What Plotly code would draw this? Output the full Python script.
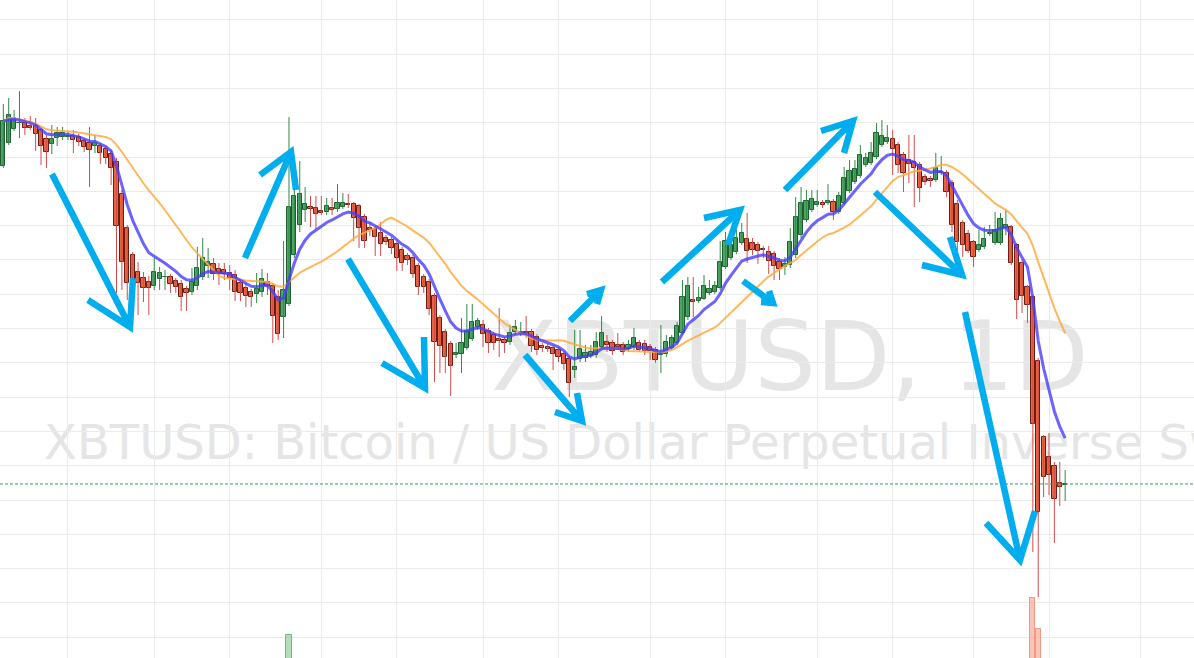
import pandas as pd
import plotly.graph_objects as go

# XBTUSD daily, 2019-09-03 .. 2020-03-18
START = "2019-09-03"

OPEN = [
    9370, 9705, 9910, 9990, 9997, 9953, 9953, 9895, 9764, 9691,
    9778, 9793, 9793, 9808, 9793, 9735, 9705, 9662, 9662, 9618,
    9545, 9429, 8962, 8466, 8073, 7825, 7738, 7679, 7621, 7723,
    7745, 7752, 7694, 7650, 7577, 7534, 7621, 7752, 7912, 7942,
    7869, 7854, 7810, 7781, 7665, 7592, 7534, 7504, 7534, 7679,
    7621, 7461, 7169, 7359, 8073, 8510, 8729, 8773, 8758, 8714,
    8700, 8758, 8743, 8773, 8816, 8816, 8787, 8627, 8466, 8452,
    8394, 8321, 8292, 8233, 8146, 8058, 8029, 7912, 7752, 7679,
    7475, 7154, 6950, 6776, 6615, 6630, 6717, 6848, 7023, 7052,
    6965, 6907, 6848, 6834, 6805, 6950, 6936, 6950, 6950, 6878,
    6746, 6732, 6717, 6688, 6630, 6557, 6397, 6557, 6571, 6601,
    6615, 6732, 6805, 6790, 6761, 6761, 6703, 6732, 6790, 6776,
    6732, 6688, 6615, 6630, 6717, 6790, 6936, 7169, 7417, 7402,
    7431, 7519, 7534, 7592, 7898, 8029, 8117, 8248, 8306, 8248,
    8219, 8160, 8117, 8087, 7971, 7898, 7927, 8073, 8364, 8583,
    8729, 8802, 8831, 8831, 8845, 8700, 8831, 9006, 9137, 9224,
    9385, 9414, 9501, 9676, 9720, 9764, 9676, 9531, 9458, 9429,
    9385, 9210, 9181, 9166, 9268, 9268, 9122, 8816, 8539, 8379,
    8262, 8146, 8190, 8379, 8248, 8248, 8466, 8481, 8219, 7956,
    7606, 7461, 6528, 5420, 5128, 4997, 4749, 4720,
]
HIGH = [
    10274, 10361, 10186, 10463, 10070, 10099, 10070, 9924, 9822, 9968,
    9939, 9939, 9880, 9895, 9837, 9764, 9939, 9822, 9705, 9662,
    9603, 9487, 9020, 8510, 8117, 7971, 7825, 7767, 8029, 7898,
    7854, 7796, 7738, 7708, 7621, 7883, 8190, 8321, 8175, 8029,
    7956, 7956, 7927, 7854, 7723, 7665, 7577, 7810, 7869, 7810,
    7665, 7563, 8277, 10084, 9020, 9443, 9064, 8933, 8933, 8933,
    8904, 8904, 9108, 8977, 8962, 8845, 8816, 8670, 8554, 8496,
    8554, 8364, 8335, 8277, 8190, 8102, 8073, 7956, 7796, 7723,
    7519, 7198, 6994, 6819, 6790, 7154, 7359, 7359, 7154, 7125,
    7009, 6950, 7300, 6878, 7052, 7125, 7096, 7184, 6994, 6921,
    6790, 6776, 6761, 6732, 6673, 6601, 6980, 6980, 6761, 6761,
    6950, 7184, 6907, 6834, 6936, 6805, 6834, 7009, 6834, 6834,
    6776, 6732, 7052, 6907, 6907, 7096, 7708, 7752, 7752, 7606,
    7781, 7708, 7694, 8277, 8408, 8394, 8437, 8539, 8685, 8321,
    8262, 8204, 8204, 8131, 8029, 8044, 8466, 8918, 9064, 9020,
    9020, 9020, 8875, 9108, 8889, 8991, 9356, 9458, 9458, 9676,
    9560, 9720, 9997, 10041, 9968, 9895, 9720, 9574, 9822, 9822,
    9429, 9254, 9224, 9560, 9516, 9312, 9166, 8875, 8583, 8437,
    8292, 8437, 8481, 8510, 8700, 8685, 8729, 8510, 8248, 8000,
    7635, 7490, 6571, 5449, 5478, 5055, 5055, 4939,
]
LOW = [
    9341, 9676, 9880, 9778, 9822, 9895, 9589, 9385, 9341, 9545,
    9662, 9749, 9749, 9560, 9662, 9574, 9064, 9560, 9399, 9399,
    9093, 7519, 7563, 7417, 7563, 7198, 7388, 7198, 7563, 7563,
    7563, 7519, 7519, 7257, 7257, 7490, 7563, 7708, 7738, 7708,
    7635, 7708, 7563, 7402, 7402, 7315, 7315, 7373, 7461, 7490,
    6790, 6834, 6863, 7329, 8029, 8408, 8554, 8481, 8452, 8656,
    8656, 8656, 8700, 8743, 8758, 8277, 8175, 8175, 8350, 8058,
    8058, 8219, 8087, 7840, 7840, 7927, 7738, 7490, 7519, 7198,
    6222, 6353, 6353, 6017, 6571, 6353, 6688, 6819, 6980, 6732,
    6644, 6688, 6586, 6644, 6761, 6907, 6892, 6863, 6659, 6615,
    6659, 6659, 6397, 6513, 6397, 6003, 6280, 6513, 6513, 6571,
    6571, 6703, 6659, 6615, 6688, 6615, 6659, 6688, 6659, 6615,
    6542, 6499, 6353, 6586, 6688, 6761, 6907, 7125, 7169, 7373,
    7417, 7490, 7504, 7563, 7869, 8000, 8087, 8219, 7956, 8073,
    7942, 8029, 7796, 7708, 7708, 7781, 7883, 8029, 8321, 8554,
    8700, 8773, 8758, 8802, 8583, 8670, 8802, 8977, 9108, 9195,
    9356, 9385, 9472, 9647, 9691, 9239, 9268, 8991, 9122, 8773,
    8845, 9093, 9064, 9137, 9239, 8918, 8408, 8044, 8044, 8102,
    7898, 8117, 8160, 8350, 8219, 8219, 8364, 7927, 7140, 7227,
    7082, 3743, 3087, 4545, 4574, 3875, 4414, 4487,
]
CLOSE = [
    10026, 10114, 10070, 10004, 9924, 9931, 9837, 9662, 9574, 9764,
    9851, 9851, 9808, 9749, 9720, 9647, 9603, 9705, 9560, 9487,
    9341, 8496, 7971, 7665, 7665, 7665, 7592, 7592, 7825, 7810,
    7752, 7650, 7606, 7461, 7519, 7679, 7883, 8029, 7971, 7796,
    7796, 7796, 7738, 7534, 7519, 7475, 7461, 7577, 7723, 7621,
    7184, 6921, 7563, 8773, 8933, 8962, 8816, 8743, 8670, 8685,
    8787, 8729, 8831, 8831, 8802, 8612, 8466, 8277, 8437, 8335,
    8233, 8262, 8175, 8029, 7956, 8000, 7796, 7606, 7606, 7286,
    6805, 6746, 6586, 6455, 6644, 6790, 6965, 7096, 7111, 6921,
    6790, 6790, 6819, 6790, 6936, 7023, 6950, 6929, 6746, 6688,
    6717, 6703, 6630, 6586, 6484, 6207, 6440, 6703, 6644, 6659,
    6805, 6936, 6761, 6673, 6732, 6659, 6761, 6863, 6688, 6673,
    6673, 6542, 6630, 6805, 6863, 7038, 7461, 7621, 7388, 7446,
    7621, 7577, 7621, 7971, 8277, 8219, 8321, 8394, 8131, 8146,
    8131, 8146, 7985, 7912, 7869, 7942, 8262, 8627, 8831, 8860,
    8889, 8845, 8802, 8860, 8700, 8933, 9195, 9297, 9326, 9531,
    9487, 9560, 9851, 9808, 9778, 9618, 9385, 9268, 9399, 9341,
    9050, 9137, 9152, 9341, 9283, 8991, 8510, 8262, 8219, 8131,
    8044, 8219, 8306, 8394, 8437, 8598, 8510, 7956, 7417, 7475,
    7344, 5609, 4327, 4837, 4866, 4516, 4691, 4735,
]

# only the volume bars that reach into the visible pane (billions of contracts)
VOL_DATES = ["2019-10-26", "2020-03-12", "2020-03-13"]
VOLUME = [8.7, 12.0, 9.2]
VOL_UP = [True, False, False]

GRID_DATES = ["2019-09-15", "2019-10-01", "2019-10-15", "2019-11-01", "2019-11-15",
              "2019-12-01", "2019-12-15", "2020-01-01", "2020-01-15", "2020-02-01",
              "2020-02-15", "2020-03-01", "2020-03-15", "2020-04-01"]

W, H = 1194, 658
DAY_MS = 86400000

dates = pd.date_range(START, periods=len(CLOSE), freq="D")
df = pd.DataFrame({"open": OPEN, "high": HIGH, "low": LOW, "close": CLOSE}, index=dates)
df["ema"] = df["close"].ewm(span=9, adjust=False).mean()
df["sma"] = df["close"].rolling(20, min_periods=1).mean()
up = df[df["close"] >= df["open"]]
dn = df[df["close"] < df["open"]]


def wick_xy(d):
    xs, ys = [], []
    for t, row in d.iterrows():
        xs += [t, t, None]
        ys += [row["low"], row["high"], None]
    return xs, ys


fig = go.Figure()

# volume
vol_cols = ["rgba(120,195,135,0.55)" if u else "rgba(245,150,125,0.55)" for u in VOL_UP]
vol_line = ["#6dbb80" if u else "#ee9a85" for u in VOL_UP]
fig.add_trace(go.Bar(x=pd.to_datetime(VOL_DATES), y=VOLUME, yaxis="y2", width=0.98 * DAY_MS,
                     marker=dict(color=vol_cols, line=dict(color=vol_line, width=1))))

# wicks
for d, col in [(up, "#2e8b45"), (dn, "#d24c4c")]:
    xs, ys = wick_xy(d)
    fig.add_trace(go.Scatter(x=xs, y=ys, mode="lines", line=dict(color=col, width=1)))

# bodies
for d, fill, edge in [(up, "#4ea665", "#1e5e30"), (dn, "#e9643f", "#6e1c0e")]:
    base = d[["open", "close"]].min(axis=1)
    size = (d["close"] - d["open"]).abs()
    fig.add_trace(go.Bar(x=d.index, y=size, base=base, width=0.78 * DAY_MS,
                         marker=dict(color=fill, line=dict(color=edge, width=1))))

# moving averages
fig.add_trace(go.Scatter(x=df.index, y=df["sma"], mode="lines",
                         line=dict(color="rgba(255,172,60,0.85)", width=2)))
fig.add_trace(go.Scatter(x=df.index, y=df["ema"], mode="lines",
                         line=dict(color="rgba(72,60,255,0.8)", width=3)))

shapes = []

# watermark, under the candles
for text, size, left, cy in [("XBTUSD, 1D", 97, 488, 349.5),
                             ("XBTUSD: Bitcoin / US Dollar Perpetual Inverse Swap Contract", 48, 41, 439)]:
    shapes.append(dict(type="rect", xref="paper", yref="paper", layer="between",
                       x0=left / W, x1=(left + 10) / W, y0=1 - (cy + 5) / H, y1=1 - (cy - 5) / H,
                       line=dict(width=0), fillcolor="rgba(0,0,0,0)",
                       label=dict(text=text, textposition="middle left", padding=0,
                                  font=dict(family="DejaVu Sans", size=size, color="#e5e5e5"))))

# last price line
shapes.append(dict(type="line", xref="paper", yref="y", x0=0, x1=1, y0=CLOSE[-1], y1=CLOSE[-1],
                   line=dict(color="#3a9a5b", width=1, dash="3px,2px")))

# hand-drawn arrows (pixel points: start, tip, head end 1, head end 2)
ARROWS = [
    ((52, 174), (130, 327), (88, 300), (133, 278)),
    ((245, 258), (291, 152), (260, 175), (296, 190)),
    ((348, 259), (425, 388), (382, 363), (424, 337)),
    ((525, 355), (582, 421), (555, 412), (577, 393)),
    ((570, 321), (601, 290), (587, 294), (597, 304)),
    ((662, 282), (740, 210), (704, 218), (728, 245)),
    ((743, 281), (773, 303), (761, 302), (769, 291)),
    ((785, 190), (853, 121), (821, 131), (844, 153)),
    ((875, 192), (962, 275), (922, 265), (950, 237)),
    ((965, 312), (1020, 560), (986, 523), (1035, 511)),
]


def pp(p):
    return f"{p[0] / W:.5f},{1 - p[1] / H:.5f}"


for s, t, h1, h2 in ARROWS:
    path = f"M {pp(s)} L {pp(t)} M {pp(h1)} L {pp(t)} L {pp(h2)}"
    shapes.append(dict(type="path", xref="paper", yref="paper", path=path,
                       line=dict(color="#00aeef", width=6.5)))

fig.update_layout(
    width=W, height=H,
    margin=dict(l=0, r=0, t=0, b=0),
    paper_bgcolor="white", plot_bgcolor="white",
    showlegend=False, barmode="overlay", bargap=0,
    shapes=shapes,
    xaxis=dict(type="date", range=["2019-09-02 09:18", "2020-04-10 21:36"],
               tickvals=GRID_DATES, showticklabels=False, ticks="",
               showgrid=True, gridcolor="#ebebeb", gridwidth=1, zeroline=False, showline=False),
    yaxis=dict(range=[2198, 11790], tick0=0, dtick=500, showticklabels=False, ticks="",
               showgrid=True, gridcolor="#ebebeb", gridwidth=1, zeroline=False, showline=False),
    yaxis2=dict(overlaying="y", range=[6.585, 66.0], visible=False, showgrid=False),
)

fig.write_html("out.html", config={"displayModeBar": False},
               post_script="document.body.style.margin='0';")
